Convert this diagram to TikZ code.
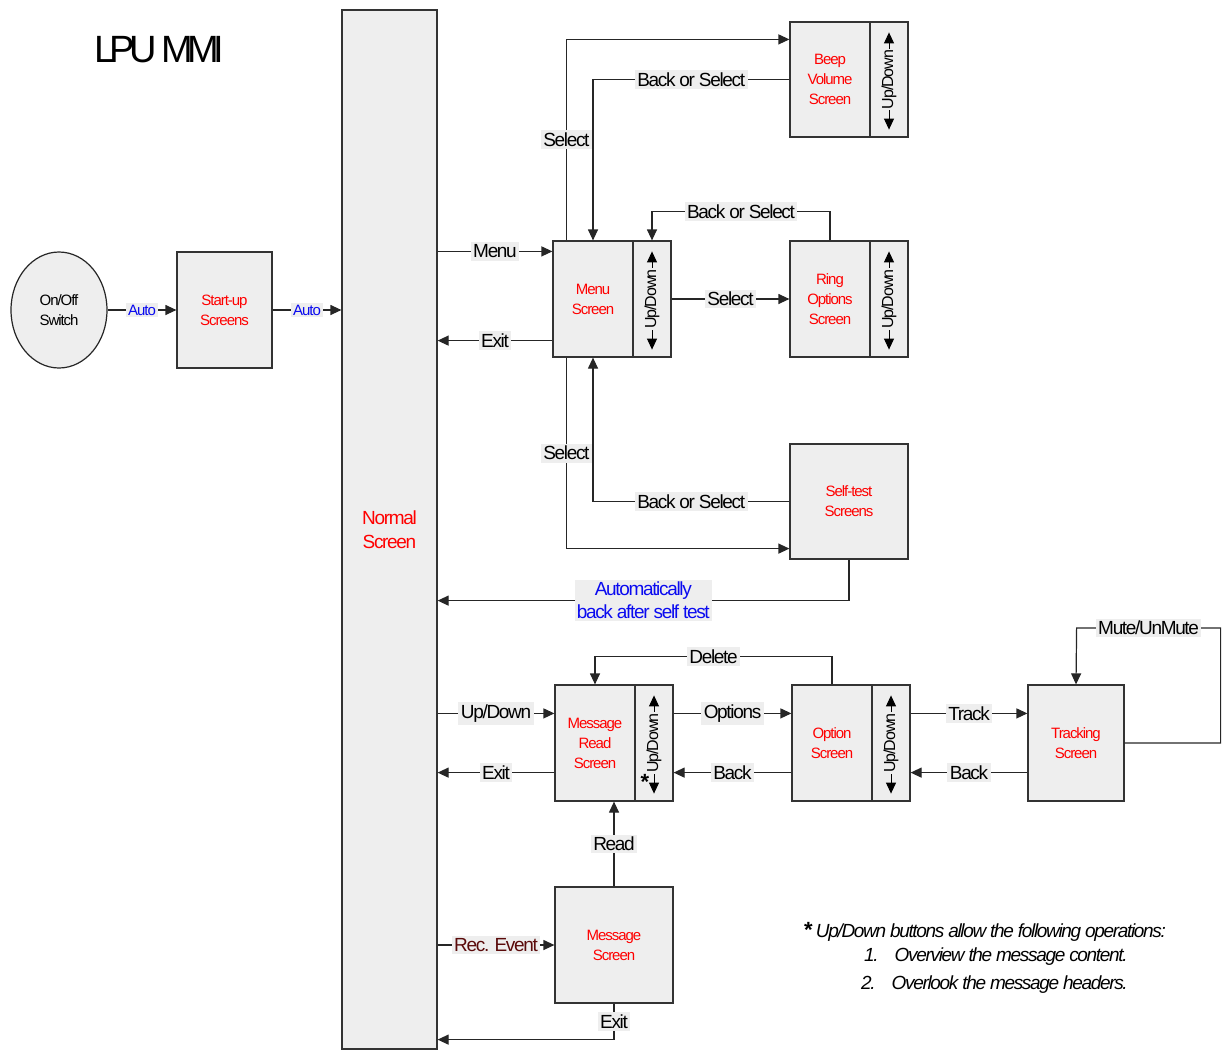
\documentclass[tikz,border=0pt]{standalone}
\usepackage{fontspec}
\setmainfont{Liberation Sans}[LetterSpace=-7]
\newfontfamily\ttlfamily{Liberation Sans}[LetterSpace=-15]
\usetikzlibrary{arrows.meta,calc,shapes.geometric}
\definecolor{boxfill}{HTML}{EEEEEE}
\definecolor{lblfill}{HTML}{EEEEEE}
\definecolor{scrred}{HTML}{FF0000}
\definecolor{autoblue}{HTML}{0A0AF0}
\definecolor{evred}{HTML}{5A0A0A}
\newcommand\lblfnt{\fontsize{19}{23}\selectfont}
\newcommand\boxfnt{\fontsize{15}{20}\selectfont}
\newcommand\bigfnt{\fontsize{19}{24}\selectfont}
\newcommand\udfnt{\fontsize{16}{18}\selectfont}
\newcommand\notefnt{\fontsize{19}{22}\selectfont\itshape}
\begin{document}
\begin{tikzpicture}[x=1pt,y=-1pt,
  scr/.style={draw=black!80, fill=boxfill, line width=1.2pt, inner sep=0pt, text=scrred, font=\boxfnt, align=center},
  udbox/.style={draw=black!80, fill=boxfill, line width=1.2pt, inner sep=0pt},
  udtxt/.style={rotate=90, fill=boxfill, inner sep=1pt, font=\udfnt},
  udarr/.style={line width=1pt, {Triangle[length=11pt,width=10pt]}-{Triangle[length=11pt,width=10pt]}},
  lbl/.style={fill=lblfill, inner sep=2.5pt, font=\lblfnt, text=black},
  alb/.style={fill=lblfill, inner sep=2pt, font=\boxfnt, text=autoblue},
  arr/.style={line width=1.2pt, draw=black!85, -{Triangle[length=11pt,width=10pt]}},
  ln/.style={line width=1.2pt, draw=black!85}]
\useasboundingbox (0,0) rectangle (1230,1050);

% title
\node[anchor=west, font=\ttlfamily\fontsize{38}{40}\selectfont, inner sep=0pt] (title) at (94,50) {LPU MMI};

% nodes
\node[ellipse, draw=black!85, fill=boxfill, line width=1.2pt, minimum width=96pt, minimum height=116pt, inner sep=0pt, font=\boxfnt, align=center] (onoff) at (59,310) {On/Off\\Switch};
\node[scr, minimum width=95pt, minimum height=116pt] (startup) at (224.5,310) {Start-up\\Screens};
\node[scr, minimum width=95pt, minimum height=1039pt, font=\bigfnt] (normal) at (389.5,529.5) {Normal\\Screen};

\node[scr, minimum width=80pt, minimum height=116pt] (menu) at (593,299) {Menu\\Screen};
\node[udbox, minimum width=38pt, minimum height=116pt] (menuud) at (652,299) {};
\node[scr, minimum width=80pt, minimum height=115pt] (beep) at (830,79.5) {Beep\\Volume\\Screen};
\node[udbox, minimum width=38pt, minimum height=115pt] (beepud) at (889,79.5) {};
\node[scr, minimum width=80pt, minimum height=116pt] (ring) at (830,299) {Ring\\Options\\Screen};
\node[udbox, minimum width=38pt, minimum height=116pt] (ringud) at (889,299) {};
\node[scr, minimum width=118pt, minimum height=115pt] (self) at (849,501.5) {Self-test\\Screens};

\node[scr, minimum width=80pt, minimum height=116pt] (mread) at (595,743) {Message\\Read\\Screen};
\node[udbox, minimum width=38pt, minimum height=116pt] (mreadud) at (654,743) {};
\node[scr, minimum width=80pt, minimum height=116pt] (opt) at (832,743) {Option\\Screen};
\node[udbox, minimum width=38pt, minimum height=116pt] (optud) at (891,743) {};
\node[scr, minimum width=96pt, minimum height=116pt] (track) at (1076,743) {Tracking\\Screen};
\node[scr, minimum width=118pt, minimum height=116pt] (mscr) at (614,945) {Message\\Screen};

% up/down indicators
\foreach \u in {menuud,beepud,ringud,mreadud,optud}{
  \draw[udarr] ($(\u.south)+(0,-8)$) -- ($(\u.north)+(0,11)$);
  \node[udtxt] at (\u.center) {Up/Down};
}
\node[font=\bfseries\fontsize{22}{22}\selectfont, inner sep=0pt] (star) at (645,782) {*};

% connectors
\draw[arr] (onoff) -- node[alb]{Auto} (startup);
\draw[arr] (startup.east) -- node[alb]{Auto} (startup.east -| normal.west);

\coordinate (menuin) at ($(menu.north west)+(0,11)$);
\draw[arr] (normal.east |- menuin) -- node[lbl]{Menu} (menuin);
\coordinate (menuout) at ($(menu.south west)+(0,-17)$);
\draw[arr] (menuout) -- node[lbl]{Exit} (normal.east |- menuout);

\draw[arr] ($(menu.north west)+(14,0)$) |- node[lbl,pos=0.25]{Select} ($(beep.north west)+(0,18)$);
\draw[arr] (beep.west) -| node[lbl,pos=0.25]{Back or Select} (menu.north);
\draw[arr] (ring.north) -- ++(0,-29) -| node[lbl,pos=0.25]{Back or Select} (menuud.north);
\draw[arr] (menuud.east) -- node[lbl]{Select} (ring.west);
\draw[arr] ($(menu.south west)+(14,0)$) |- node[lbl,pos=0.25]{Select} ($(self.south west)+(0,-11)$);
\draw[arr] (self.west) -| node[lbl,pos=0.25]{Back or Select} (menu.south);
\coordinate (selfback) at ($(self.south)+(0,41)$);
\draw[ln] (self.south) -- (selfback);
\draw[arr] (selfback) -- node[fill=lblfill, inner sep=2pt, font=\lblfnt, text=autoblue, align=center]{Automatically\\back after self test} (normal.east |- selfback);

\coordinate (mrin) at ($(mread.north west)+(0,29)$);
\draw[arr] (normal.east |- mrin) -- node[lbl]{Up/Down} (mrin);
\coordinate (mrout) at ($(mread.south west)+(0,-29)$);
\draw[arr] (mrout) -- node[lbl]{Exit} (normal.east |- mrout);

\coordinate (optin) at ($(opt.north west)+(0,29)$);
\draw[arr] (mreadud.east |- optin) -- node[lbl]{Options} (optin);
\coordinate (optout) at ($(opt.south west)+(0,-29)$);
\draw[arr] (optout) -- node[lbl]{Back} (mreadud.east |- optout);
\draw[arr] (opt.north) -- ++(0,-28) -| node[lbl,pos=0.25]{Delete} (mread.north);

\coordinate (trin) at ($(track.north west)+(0,29)$);
\draw[arr] (optud.east |- trin) -- node[lbl]{Track} (trin);
\coordinate (trout) at ($(track.south west)+(0,-29)$);
\draw[arr] (trout) -- node[lbl]{Back} (optud.east |- trout);
\draw[arr] (track.east) -- ++(96,0) -- ++(0,-115) -- node[lbl]{Mute/UnMute} ++(-144,0) -- (track.north);

\draw[arr] (mscr.north) -- node[lbl]{Read} (mscr.north |- mread.south);
\draw[arr] (normal.east |- mscr.west) -- node[lbl, text=evred]{Rec. Event} (mscr.west);
\draw[arr] (mscr.south) |- node[lbl,pos=0.25]{Exit} ($(normal.south east)+(0,-10)$);

% footnote
\node[anchor=west, inner sep=0pt, font=\notefnt] (note0) at (804,932) {{\upshape\bfseries\fontsize{22}{22}\selectfont *}\,Up/Down buttons allow the following operations:};
\node[anchor=west, inner sep=0pt, font=\notefnt] (note1) at (864,957) {1.\hspace{16pt}Overview the message content.};
\node[anchor=west, inner sep=0pt, font=\notefnt] (note2) at (861,985) {2.\hspace{16pt}Overlook the message headers.};
\end{tikzpicture}
\end{document}
